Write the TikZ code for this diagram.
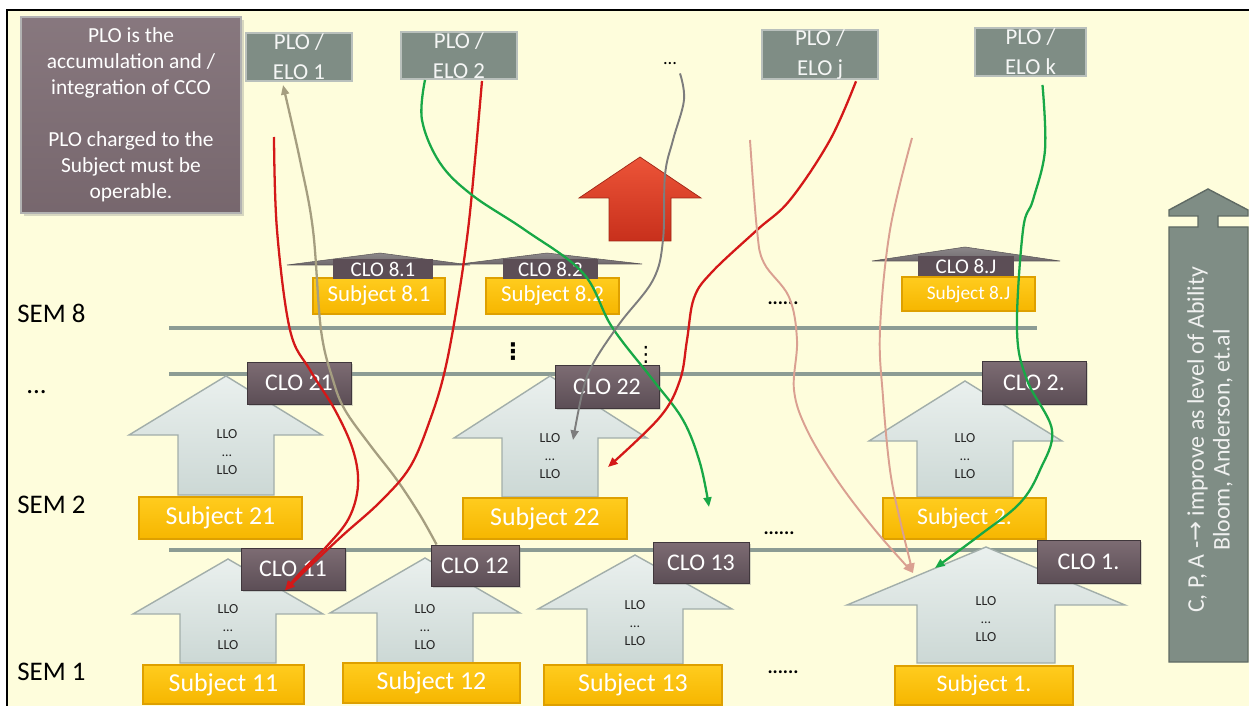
\documentclass[tikz,border=0pt]{standalone}
\usepackage{fontspec}
\setmainfont{Carlito}
\newfontfamily\djv{DejaVu Sans}
\usetikzlibrary{arrows.meta,shadows,calc}
\definecolor{bgc}{RGB}{254,253,220}
\definecolor{mauve}{RGB}{125,108,115}
\definecolor{mauvedark}{RGB}{92,78,86}
\definecolor{plog}{RGB}{127,141,133}
\definecolor{ylw}{RGB}{246,182,0}
\definecolor{ylwtop}{RGB}{255,204,30}
\definecolor{ylwedge}{RGB}{222,160,0}
\definecolor{lloTop}{RGB}{234,240,238}
\definecolor{lloBot}{RGB}{204,216,213}
\definecolor{lloEdge}{RGB}{162,174,170}
\definecolor{linec}{RGB}{140,156,148}
\definecolor{trig}{RGB}{112,106,109}
\definecolor{redc}{RGB}{212,24,24}
\definecolor{greenc}{RGB}{24,168,70}
\definecolor{grayc}{RGB}{125,125,125}
\definecolor{tanc}{RGB}{165,158,128}
\definecolor{pinkc}{RGB}{218,160,145}
\definecolor{bigred}{RGB}{236,84,56}
\definecolor{bigreddark}{RGB}{200,48,28}
\tikzset{
 bx/.style args={#1,#2,#3,#4}{minimum width={(#3-#1)*0.02cm}, minimum height={(#4-#2)*0.02cm}, at={({(#1+#3)/2},{(#2+#4)/2})}},
 infobox/.style={draw=black!30, line width=0.6pt, top color=mauve!92!white, bottom color=mauve!95!black, text=white, inner sep=0pt, align=center, font=\fontsize{12.2}{14.8}\selectfont, drop shadow={shadow xshift=1.5pt, shadow yshift=-1.5pt, opacity=0.3}},
 plobox/.style={draw=plog!55!white, line width=1.1pt, fill=plog, text=white!92!plog, inner sep=0pt, align=center, font=\fontsize{13}{17}\selectfont},
 clobox/.style={draw=mauvedark!70!black, line width=0.5pt, top color=mauve, bottom color=mauvedark, text=white, inner sep=0pt, font=\fontsize{13.6}{16}\selectfont, drop shadow={shadow xshift=1.2pt, shadow yshift=-1.2pt, opacity=0.3}},
 tabbox/.style={fill=mauvedark, text=white, inner sep=0pt, font=\fontsize{11.9}{14}\selectfont},
 subjbox/.style={draw=ylwedge, line width=0.6pt, top color=ylwtop, bottom color=ylw, text=white, inner sep=0pt, font=\fontsize{14.7}{17}\selectfont},
 lloshape/.style={draw=lloEdge, line width=0.8pt, top color=lloTop, bottom color=lloBot},
 lbl/.style={align=center, text=black!85, inner sep=0pt, font=\fontsize{7.9}{10.5}\selectfont},
 semtxt/.style={anchor=west, inner sep=0pt, text=black, font=\fontsize{15.3}{18}\selectfont},
 dotstxt/.style={inner sep=0pt, text=black, font=\bfseries\fontsize{11}{12}\selectfont},
 hline/.style={draw=linec, line width=2.3pt},
 trishape/.style={top color=trig!80!white, bottom color=trig, draw=trig!80!black, line width=0.3pt},
 curve/.style={line width=1.3pt},
 arr/.style={-{Triangle[length=5.5pt,width=4.5pt]}}
}
\begin{document}
\begin{tikzpicture}[x=0.02cm,y=-0.02cm]
\useasboundingbox (0,0) rectangle (1249,706);
\fill[white] (0,0) rectangle (1249,706);
\fill[bgc] (7,10) rectangle (1249,706);
\draw[black, line width=1.2pt] (7,706) -- (7,10) -- (1249,10);

% info box
\node[infobox, bx={21,17,241,213}] (info) {PLO is the\\accumulation and /\\integration of CCO\\[14.8pt]PLO charged to the\\Subject must be\\operable.};

% PLO / ELO boxes
\node[plobox, bx={246,33,352,81}] (e1) {PLO /\\ELO 1};
\node[plobox, bx={401,32,517,79}] (e2) {PLO /\\ELO 2};
\node[plobox, bx={762,31,878,78}] (ej) {PLO /\\ELO j};
\node[plobox, bx={975,28,1086,76}] (ek) {PLO /\\ELO k};
\node[inner sep=0pt, text=black, font=\fontsize{10.5}{12}\selectfont] (topdots) at (670,64) {...};

% big red arrow
\path[top color=bigred, bottom color=bigreddark, draw=bigreddark!80!black, line width=0.4pt]
 (640,157) -- (701,198) -- (671,198) -- (671,241) -- (609,241) -- (609,198) -- (579,198) -- cycle;

% right gray arrow
\path[fill=plog, draw=plog!75!black, line width=0.8pt]
 (1169,662) -- (1169,227) -- (1198,227) -- (1198,216) -- (1169,216) -- (1169,210) -- (1208,189)
 -- (1248,210) -- (1248,216) -- (1218,216) -- (1218,227) -- (1248,227) -- (1248,662) -- cycle;
\node[rotate=90, align=center, inner sep=0pt, text=white!88!plog, font=\fontsize{13.6}{14.7}\selectfont] (ability) at (1210,440)
 {C, P, A -{\djv →} improve as level of Ability\\Bloom, Anderson, et.al};

% horizontal lines
\draw[hline] (169,328) -- (1037,328);
\draw[hline] (169,374) -- (1037,374);
\draw[hline] (169,550) -- (1037,550);

% SEM 8 row
\path[trishape] (287,265) -- (380,253) -- (470,265) -- cycle;
\path[trishape] (460,264) -- (547,253) -- (642,264) -- cycle;
\path[trishape] (872,261) -- (965,247) -- (1060,261) -- cycle;
\node[subjbox, font=\fontsize{13}{15}\selectfont, bx={313,278,445,314}] (s81) {Subject 8.1};
\node[subjbox, font=\fontsize{13}{15}\selectfont, bx={486,278,619,314}] (s82) {Subject 8.2};
\node[subjbox, font=\fontsize{11}{13}\selectfont, bx={902,277,1035,311}] (s8j) {Subject 8.J};
\node[tabbox, bx={333,259,433,279}] (c81) {CLO 8.1};
\node[tabbox, bx={503,259,598,279}] (c82) {CLO 8.2};
\node[tabbox, bx={918,256,1014,276}] (c8j) {CLO 8.J};

% SEM 2 row arrows
\path[lloshape] (226,376) -- (322,435) -- (274,435) -- (274,495) -- (178,495) -- (178,435) -- (129,435) -- cycle;
\path[lloshape] (550,376) -- (647,438) -- (598,438) -- (598,497) -- (502,497) -- (502,438) -- (454,438) -- cycle;
\path[lloshape] (965,381) -- (1062,441) -- (1013,441) -- (1013,497) -- (917,497) -- (917,441) -- (869,441) -- cycle;
% SEM 1 row arrows
\path[lloshape] (228,559) -- (323,614) -- (276,614) -- (276,663) -- (180,663) -- (180,614) -- (133,614) -- cycle;
\path[lloshape] (425,558) -- (520,613) -- (473,613) -- (473,663) -- (377,663) -- (377,613) -- (330,613) -- cycle;
\path[lloshape] (635,555) -- (732,609) -- (683,609) -- (683,664) -- (587,664) -- (587,609) -- (538,609) -- cycle;
\path[lloshape] (986,547) -- (1125,605) -- (1055,605) -- (1055,663) -- (917,663) -- (917,605) -- (847,605) -- cycle;

\node[lbl] (l21) at (227,452) {LLO\\…\\LLO};
\node[lbl] (l22) at (550,456) {LLO\\…\\LLO};
\node[lbl] (l2j) at (965,456) {LLO\\…\\LLO};
\node[lbl] (l11) at (228,627) {LLO\\…\\LLO};
\node[lbl] (l12) at (425,627) {LLO\\…\\LLO};
\node[lbl] (l13) at (635,623) {LLO\\…\\LLO};
\node[lbl] (l1j) at (986,619) {LLO\\…\\LLO};

% CLO boxes
\node[clobox, bx={247,362,351,404}] (c21) {CLO 21};
\node[clobox, bx={555,365,659,408}] (c22) {CLO 22};
\node[clobox, bx={982,361,1086,404}] (c2j) {CLO 2.};
\node[clobox, bx={241,548,345,590}] (c11) {CLO 11};
\node[clobox, bx={431,545,519,586}] (c12) {CLO 12};
\node[clobox, bx={653,542,749,583}] (c13) {CLO 13};
\node[clobox, bx={1037,540,1140,583}] (c1j) {CLO 1.};

% Subject boxes
\node[subjbox, bx={139,497,302,539}] (s21) {Subject 21};
\node[subjbox, bx={463,498,627,539}] (s22) {Subject 22};
\node[subjbox, font=\fontsize{13.5}{16}\selectfont, bx={883,498,1046,539}] (s2j) {Subject 2.};
\node[subjbox, bx={143,665,304,704}] (s11) {Subject 11};
\node[subjbox, bx={343,663,520,703}] (s12) {Subject 12};
\node[subjbox, bx={544,665,722,705}] (s13) {Subject 13};
\node[subjbox, font=\fontsize{13.5}{16}\selectfont, bx={895,666,1073,705}] (s1j) {Subject 1.};

% SEM labels
\node[semtxt] (sem8) at (17,313) {SEM 8};
\node[semtxt] (semdots) at (26,392) {...};
\node[semtxt] (sem2) at (17,505) {SEM 2};
\node[semtxt] (sem1) at (17,672) {SEM 1};

% dots
\node[dotstxt] (d8) at (783,303) {......};
\node[dotstxt] (d2) at (779,533) {......};
\node[dotstxt] (d1) at (783,672) {......};
\node[inner sep=0pt, text=black, font=\djv\bfseries\fontsize{13}{14}\selectfont] (vd1) at (513,352) {⋮};
\node[inner sep=0pt, text=black, font=\djv\fontsize{12}{13}\selectfont] (vd2) at (646,355) {⋮};

% curve end points
\coordinate (r1s) at (274,137);
\coordinate (t11) at ($(c11.south)+(-8,0)$);
\coordinate (r2s) at ($(e2.south)+(23,1)$);
\coordinate (tans) at ($(c12.north west)+(6,0)$);
\coordinate (tane) at ($(e1.south)+(-16,3)$);
\coordinate (g1s) at ($(e2.south)+(-34,0)$);
\coordinate (g1e) at (709,507);
\coordinate (grs) at ($(topdots.south)+(10,8)$);
\coordinate (gre) at (573,440);
\coordinate (rjs) at ($(ej.south)+(36,1)$);
\coordinate (rje) at (608,467);
\coordinate (p1s) at (750,140);
\coordinate (p2s) at (912,138);
\coordinate (pe) at (913,573);
\coordinate (gks) at ($(ek.south)+(12,8)$);
\coordinate (gke) at (935,568);

% curves
\draw[curve, tanc, arr] plot[smooth, tension=0.6] coordinates {(tans) (420,515) (397,480) (370,445) (345,410) (333,380) (321,330) (313,230) (300,160) (tane)};
\draw[curve, redc, arr] plot[smooth, tension=0.6] coordinates {(r1s) (277,230) (290,330) (310,370) (335,410) (353,450) (358,485) (349,518) (327,546) (302,571) (t11)};
\draw[curve, redc, arr] plot[smooth, tension=0.6] coordinates {(r2s) (475,160) (468,230) (458,300) (445,370) (430,420) (410,467) (380,502) (342,536) (307,569) (t11)};
\draw[curve, greenc, arr] plot[smooth, tension=0.6] coordinates {(g1s) (422,120) (440,163) (472,195) (525,230) (583,273) (612,327) (653,380) (683,420) (700,463) (g1e)};
\draw[curve, grayc, line width=1.1pt, arr] plot[smooth, tension=0.6] coordinates {(grs) (684,100) (673,140) (665,175) (663,240) (653,280) (620,323) (594,362) (583,390) (gre)};
\draw[curve, redc, arr] plot[smooth, tension=0.6] coordinates {(rjs) (830,140) (790,200) (757,230) (712,272) (694,298) (687,340) (680,380) (660,417) (rje)};
\draw[curve, pinkc, line width=1.1pt, arr] plot[smooth, tension=0.6] coordinates {(p1s) (757,230) (764,263) (789,297) (797,340) (794,390) (807,430) (837,480) (875,530) (pe)};
\draw[curve, pinkc, line width=1.1pt, arr] plot[smooth, tension=0.6] coordinates {(p2s) (890,230) (880,330) (883,397) (890,470) (900,520) (pe)};
\draw[curve, greenc, arr] plot[smooth, tension=0.6] coordinates {(gks) (1045,150) (1033,200) (1023,230) (1017,330) (1027,380) (1052,430) (1040,470) (1020,503) (980,535) (gke)};
\end{tikzpicture}
\end{document}
